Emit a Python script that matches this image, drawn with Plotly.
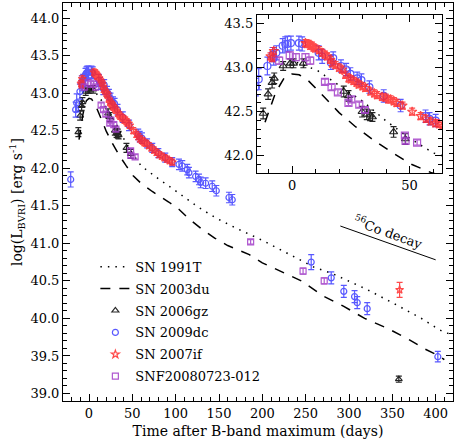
import plotly.graph_objects as go

# SN 1991T (dotted) and SN 2003du (dashed) bolometric templates
t_91T = [2, 10.7, 20, 30, 39.8, 50, 60.2, 67, 80, 95, 108, 125, 146, 170, 200, 230, 260, 280, 320, 358, 385, 404, 411, 418]
L_91T = [43.06, 42.97, 42.8, 42.62, 42.4, 42.2, 42.03, 41.97, 41.86, 41.74, 41.63, 41.49, 41.34, 41.2, 41.04, 40.86, 40.68, 40.6, 40.39, 40.16, 39.99, 39.85, 39.81, 39.79]

t_03du = [-11.5, -7, -3, 0, 3, 7, 14, 20, 27, 35, 43, 51, 59, 73, 92, 104, 115, 130, 145, 160, 185, 200, 245, 270, 294, 318, 344, 369, 388, 404, 410]
L_03du = [42.38, 42.72, 42.9, 42.93, 42.92, 42.85, 42.66, 42.49, 42.33, 42.17, 42.03, 41.9, 41.81, 41.69, 41.55, 41.45, 41.33, 41.19, 41.07, 40.97, 40.85, 40.74, 40.5, 40.3, 40.16, 40.0, 39.87, 39.72, 39.59, 39.5, 39.45]

# SN 2006gz
t_06gz = [-12.3, -10.2, -8.5, -7.6, -3.8, -0.8, 0.6, 4.8, 22, 24, 29.8, 31.8, 33.2, 34.2, 43.2, 48.2, 357.5]
L_06gz = [42.48, 42.7, 42.83, 42.88, 43.02, 43.05, 43.05, 43.05, 42.73, 42.68, 42.5, 42.47, 42.46, 42.44, 42.27, 42.19, 39.19]
e_06gz = [0.06, 0.06, 0.06, 0.06, 0.05, 0.05, 0.05, 0.05, 0.06, 0.06, 0.06, 0.06, 0.06, 0.05, 0.06, 0.06, 0.04]

# SN 2009dc
t_09dc = [-21.1, -15.4, -14.2, -10.5, -8.3, -7.8, -6.7, -4, -2.9, -2, -0.5, 2.9, 4.3, 11.3, 12.8, 16.5, 17.5, 20.8, 23, 24.8,
          27.7, 29.5, 32.9, 39, 46.2, 56.8, 58.5, 61.1, 67, 73, 80, 88, 96, 103.8, 107.6, 113.4, 115.3, 123, 126.9, 128.8,
          134.6, 142.2, 146.9, 161.5, 165.3, 256.4, 279.5, 294, 306.4, 309.5, 321, 402.5]
L_09dc = [41.85, 42.78, 42.87, 43.02, 43.15, 43.11, 43.17, 43.25, 43.27, 43.27, 43.28, 43.28, 43.27, 43.17, 43.13, 43.06, 43.11, 43.02, 42.98, 42.93,
          42.88, 42.86, 42.78, 42.68, 42.57, 42.45, 42.42, 42.4, 42.33, 42.27, 42.2, 42.14, 42.08, 42.05, 42.03, 41.98, 41.94, 41.89, 41.85, 41.81,
          41.8, 41.76, 41.7, 41.61, 41.58, 40.75, 40.54, 40.36, 40.29, 40.21, 40.13, 39.49]
e_09dc = [0.1, 0.1, 0.12, 0.1, 0.08, 0.08, 0.08, 0.08, 0.08, 0.09, 0.08, 0.08, 0.08, 0.08, 0.08, 0.08, 0.07, 0.07, 0.07, 0.07,
          0.07, 0.07, 0.07, 0.07, 0.07, 0.07, 0.07, 0.07, 0.06, 0.06, 0.06, 0.06, 0.06, 0.07, 0.07, 0.07, 0.07, 0.07, 0.07, 0.07,
          0.07, 0.07, 0.07, 0.07, 0.07, 0.1, 0.08, 0.08, 0.08, 0.08, 0.08, 0.07]

# SN 2007if
t_07if = [-9.2, -8.5, -7.8, 5.7, 6.5, 7.1, 7.8, 8.5, 9.2, 9.9, 11.5, 12.8, 14, 14.9, 16.3, 17, 18.5, 20, 21.3, 22.7,
          24.1, 25, 26.2, 27.5, 28.4, 30, 31.2, 33.4, 35, 36.2, 38.3, 39.8, 41, 41.9, 43.3, 44.5, 47, 51.1, 54.7, 57,
          59, 61, 62.5, 64, 66, 69, 72, 75, 78, 81, 84, 87, 90, 93, 96, 358.4]
L_07if = [43.13, 43.11, 43.19, 43.28, 43.27, 43.27, 43.25, 43.25, 43.23, 43.22, 43.2, 43.17, 43.15, 43.13, 43.09, 43.05, 43.03, 43.0, 42.98, 42.92,
          42.88, 42.87, 42.85, 42.83, 42.81, 42.79, 42.77, 42.73, 42.71, 42.69, 42.67, 42.66, 42.64, 42.64, 42.62, 42.6, 42.57, 42.5, 42.45, 42.42,
          42.39, 42.37, 42.36, 42.34, 42.33, 42.3, 42.27, 42.24, 42.21, 42.18, 42.16, 42.14, 42.12, 42.1, 42.08, 40.38]
e_07if = [0.04] * 55 + [0.1]

# SNF20080723-012
t_snf = [-5.5, -1, 1.6, 5.7, 7.7, 14, 16.8, 19.5, 24, 25.2, 28.6, 31, 48, 48.3, 53.2, 186.5, 247, 271.4]
L_snf = [43.08, 43.14, 43.12, 43.12, 43.08, 42.84, 42.78, 42.72, 42.6, 42.64, 42.58, 42.52, 42.23, 42.17, 42.15, 41.02, 40.63, 40.5]
e_snf = [0.04, 0.04, 0.04, 0.04, 0.04, 0.03, 0.03, 0.03, 0.03, 0.03, 0.03, 0.03, 0.03, 0.03, 0.03, 0.03, 0.04, 0.04]

# 56Co decay guide
t_co = [290, 400]
L_co = [41.23, 40.78]

FONT = "DejaVu Serif"
fig = go.Figure()

lines = [("SN 1991T", t_91T, L_91T, "1.5px,6px"), ("SN 2003du", t_03du, L_03du, "10px,9px")]
points = [
    ("SN 2006gz", t_06gz, L_06gz, e_06gz, "black", "triangle-up-open"),
    ("SN 2009dc", t_09dc, L_09dc, e_09dc, "#3c3cff", "circle-open"),
    ("SN 2007if", t_07if, L_07if, e_07if, "#ff2a2a", "star-open"),
    ("SNF20080723-012", t_snf, L_snf, e_snf, "#a23cc8", "square-open"),
]

for ax, show in [("", True), ("2", False)]:
    for name, t, L, dash in lines:
        fig.add_trace(go.Scatter(x=t, y=L, mode="lines", name=name, legendgroup=name, showlegend=show,
                                 line=dict(color="black", width=1.5, dash=dash),
                                 xaxis="x" + ax, yaxis="y" + ax))
    for name, t, L, e, c, sym in points:
        fig.add_trace(go.Scatter(x=t, y=L, mode="markers", name=name, legendgroup=name, showlegend=show,
                                 marker=dict(symbol=sym, size=6 if ax == "" else 7, color=c, line=dict(width=1.2, color=c)),
                                 error_y=dict(type="data", array=e, color=c, thickness=1.2, width=3),
                                 opacity=0.85, xaxis="x" + ax, yaxis="y" + ax))

fig.add_trace(go.Scatter(x=t_co, y=L_co, mode="lines", showlegend=False,
                         line=dict(color="black", width=1)))
fig.add_annotation(x=346, y=41.0, text="<sup>56</sup>Co decay", showarrow=False, textangle=20,
                   yshift=11, font=dict(family=FONT, size=13, color="black"))

axis_common = dict(showline=True, linecolor="black", linewidth=1, mirror="allticks", ticks="inside",
                   ticklen=7, tickcolor="black", showgrid=False, zeroline=False,
                   tickfont=dict(family=FONT, size=13, color="black"))

fig.update_layout(
    width=458, height=446,
    margin=dict(l=63, r=5, t=3, b=45),
    font=dict(family=FONT, color="black"),
    paper_bgcolor="white", plot_bgcolor="white",
    xaxis=dict(range=[-30, 420], dtick=50, minor=dict(dtick=10, ticklen=4, ticks="inside"),
               title=dict(text="Time after B-band maximum (days)", font=dict(family=FONT, size=14, color="black"), standoff=6),
               **axis_common),
    yaxis=dict(range=[38.9, 44.2], dtick=0.5, tickformat=".1f", minor=dict(dtick=0.1, ticklen=4, ticks="inside"),
               title=dict(text="log(L<sub>BVRI</sub>) [erg s<sup>-1</sup>]", font=dict(family=FONT, size=14, color="black"), standoff=4),
               **axis_common),
    xaxis2=dict(domain=[0.497, 0.973], anchor="y2", range=[-15, 64], tickvals=[0, 50],
                minor=dict(dtick=10, ticklen=4, ticks="inside"), **axis_common),
    yaxis2=dict(domain=[0.572, 0.970], anchor="x2", range=[41.8, 43.6], dtick=0.5, tickformat=".1f",
                minor=dict(dtick=0.1, ticklen=4, ticks="inside"), **axis_common),
    legend=dict(x=0.083, y=0.375, xanchor="left", yanchor="top", bgcolor="rgba(0,0,0,0)",
                font=dict(family=FONT, size=13, color="black"), traceorder="grouped", tracegroupgap=2),
    showlegend=True,
)

fig.write_html("out.html", config={"displayModeBar": False},
               post_script="document.body.style.margin='0';")
